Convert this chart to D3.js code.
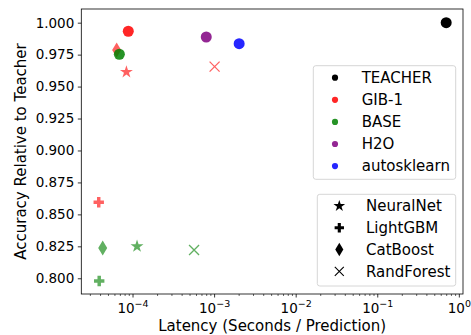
<!DOCTYPE html>
<html>
<head>
<meta charset="utf-8">
<script src="https://cdn.jsdelivr.net/npm/d3@7"></script>
<style>
  body { margin: 0; background: #fff; }
  svg text { font-family: "DejaVu Sans", sans-serif; fill: #000; }
</style>
</head>
<body>
<div class="container"></div>
<script>
// data
var methods   = ["TEACHER", "GIB-1", "GIB-1", "GIB-1", "GIB-1", "GIB-1", "BASE", "BASE", "BASE", "BASE", "BASE", "H2O", "autosklearn"];
var models    = ["circle", "circle", "CatBoost", "NeuralNet", "RandForest", "LightGBM", "circle", "CatBoost", "NeuralNet", "RandForest", "LightGBM", "circle", "circle"];
var latency   = [0.69, 8.75e-5, 6.3e-5, 8.3e-5, 1.0e-3, 3.8e-5, 6.8e-5, 4.25e-5, 1.12e-4, 5.6e-4, 3.85e-5, 7.9e-4, 2.0e-3];
var accuracy  = [1.000, 0.9933, 0.9786, 0.9614, 0.9656, 0.8595, 0.9753, 0.8237, 0.8250, 0.8221, 0.7979, 0.9888, 0.9836];

var methodNames = ["TEACHER", "GIB-1", "BASE", "H2O", "autosklearn"];
var methodColors = ["black", "red", "green", "purple", "blue"];
var modelNames = ["NeuralNet", "LightGBM", "CatBoost", "RandForest"];

var yTicks = [0.800, 0.825, 0.850, 0.875, 0.900, 0.925, 0.950, 0.975, 1.000];
var xTicks = [-4, -3, -2, -1, 0];

var width = 471, height = 335;
var margin = {top: 9, right: 8, bottom: 41, left: 81.3};

var svg = d3.select("div.container").append("svg")
    .attr("width", width)
    .attr("height", height);

var x = d3.scaleLog()
    .domain([Math.pow(10, -4.634), Math.pow(10, 0.045)])
    .range([margin.left, width - margin.right]);

var y = d3.scaleLinear()
    .domain([0.7877, 1.0107])
    .range([height - margin.bottom, margin.top]);

var color = d3.scaleOrdinal().domain(methodNames).range(methodColors);

// custom marker shapes
var thinDiamond = {
  draw: function(ctx, s) {
    var h = s, w = s * 0.6;
    ctx.moveTo(0, -h); ctx.lineTo(w, 0); ctx.lineTo(0, h); ctx.lineTo(-w, 0); ctx.closePath();
  }
};
var xMark = {
  draw: function(ctx, s) {
    ctx.moveTo(-s, -s); ctx.lineTo(s, s);
    ctx.moveTo(-s, s); ctx.lineTo(s, -s);
  }
};

function markerPath(model, big) {
  var k = big ? 1 : 0.9;
  if (model == "circle") return d3.symbol(d3.symbolCircle, big ? 95 : 30)();
  if (model == "NeuralNet") return d3.symbol(d3.symbolStar, 52 * k * k)();
  if (model == "LightGBM") return d3.symbol(d3.symbolCross, 60 * k * k)();
  if (model == "CatBoost") return d3.symbol(thinDiamond, 7.5 * k)();
  if (model == "RandForest") return d3.symbol(xMark, 5 * k)();
}

// axes
var yAxis = d3.axisLeft(y).tickValues(yTicks).tickSize(3.5).tickPadding(3.5)
    .tickFormat(d3.format(".3f"));
var gy = svg.append("g")
    .attr("transform", "translate(" + margin.left + ",0)")
    .call(yAxis);
gy.select(".domain").remove();
gy.selectAll("text").style("font-size", "13.5px").style("font-family", "DejaVu Sans");
gy.selectAll("line").attr("stroke", "#000").attr("stroke-width", 0.8);

// minor x ticks
var minor = [];
for (var e = -5; e <= 0; e++) {
  for (var m = 2; m <= 9; m++) {
    var v = m * Math.pow(10, e);
    if (v >= x.domain()[0] && v <= x.domain()[1]) minor.push(v);
  }
}
svg.append("g").selectAll("line").data(minor).enter().append("line")
    .attr("x1", function(d) { return x(d); })
    .attr("x2", function(d) { return x(d); })
    .attr("y1", height - margin.bottom)
    .attr("y2", height - margin.bottom + 2)
    .attr("stroke", "#000").attr("stroke-width", 0.6);

var gx = svg.append("g");
gx.selectAll("line").data(xTicks).enter().append("line")
    .attr("x1", function(d) { return x(Math.pow(10, d)); })
    .attr("x2", function(d) { return x(Math.pow(10, d)); })
    .attr("y1", height - margin.bottom)
    .attr("y2", height - margin.bottom + 3.5)
    .attr("stroke", "#000").attr("stroke-width", 0.8);
var xt = gx.selectAll("text").data(xTicks).enter().append("text")
    .attr("x", function(d) { return x(Math.pow(10, d)); })
    .attr("y", 313)
    .attr("text-anchor", "middle")
    .style("font-size", "13.5px");
xt.append("tspan").text("10");
xt.append("tspan").attr("dy", -6).style("font-size", "9.5px")
    .text(function(d) { return d == 0 ? "0" : "\u2212" + (-d); });

// axis labels
svg.append("text")
    .attr("x", (margin.left + width - margin.right) / 2)
    .attr("y", 331)
    .attr("text-anchor", "middle")
    .style("font-size", "15px")
    .text("Latency (Seconds / Prediction)");

svg.append("text")
    .attr("transform", "translate(26," + ((margin.top + height - margin.bottom) / 2) + ") rotate(-90)")
    .attr("text-anchor", "middle")
    .style("font-size", "15px")
    .text("Accuracy Relative to Teacher");

// points
var pts = d3.range(methods.length);
svg.append("g").selectAll("path").data(pts).enter().append("path")
    .attr("transform", function(i) { return "translate(" + x(latency[i]) + "," + y(accuracy[i]) + ")"; })
    .attr("d", function(i) { return markerPath(models[i], true); })
    .attr("fill", function(i) { return models[i] == "RandForest" ? "none" : color(methods[i]); })
    .attr("stroke", function(i) { return models[i] == "RandForest" ? color(methods[i]) : "none"; })
    .attr("stroke-width", 1.3)
    .attr("opacity", function(i) {
      if (methods[i] == "TEACHER") return 1;
      return models[i] == "circle" ? 0.85 : 0.62;
    });

// frame
svg.append("rect")
    .attr("x", margin.left).attr("y", margin.top)
    .attr("width", width - margin.right - margin.left)
    .attr("height", height - margin.bottom - margin.top)
    .attr("fill", "none").attr("stroke", "#000").attr("stroke-width", 0.8);

// legend 1: methods
var leg1 = svg.append("g");
leg1.append("rect")
    .attr("x", 313.3).attr("y", 65.7).attr("width", 142.4).attr("height", 113.6)
    .attr("rx", 2.5).attr("fill", "#fff").attr("fill-opacity", 0.8)
    .attr("stroke", "#d6d6d6").attr("stroke-width", 1);
var l1 = leg1.selectAll("g.item").data(methodNames).enter().append("g")
    .attr("transform", function(d, i) { return "translate(0," + (77.7 + i * 22.1) + ")"; });
l1.append("path")
    .attr("transform", "translate(335,0)")
    .attr("d", markerPath("circle", false))
    .attr("fill", function(d) { return color(d); })
    .attr("opacity", function(d) { return d == "TEACHER" ? 1 : 0.85; });
l1.append("text")
    .attr("x", 361.7).attr("y", 5.3)
    .style("font-size", "15px")
    .text(function(d) { return d; });

// legend 2: models
var leg2 = svg.append("g");
leg2.append("rect")
    .attr("x", 317.3).attr("y", 194.3).attr("width", 138.4).attr("height", 91.7)
    .attr("rx", 2.5).attr("fill", "#fff").attr("fill-opacity", 0.8)
    .attr("stroke", "#d6d6d6").attr("stroke-width", 1);
var l2 = leg2.selectAll("g.item").data(modelNames).enter().append("g")
    .attr("transform", function(d, i) { return "translate(0," + (206 + i * 21.8) + ")"; });
l2.append("path")
    .attr("transform", "translate(339.3,0)")
    .attr("d", function(d) { return markerPath(d, false); })
    .attr("fill", function(d) { return d == "RandForest" ? "none" : "#000"; })
    .attr("stroke", function(d) { return d == "RandForest" ? "#000" : "none"; })
    .attr("stroke-width", 1.1);
l2.append("text")
    .attr("x", 366).attr("y", 5.3)
    .style("font-size", "15px")
    .text(function(d) { return d; });
</script>
</body>
</html>
